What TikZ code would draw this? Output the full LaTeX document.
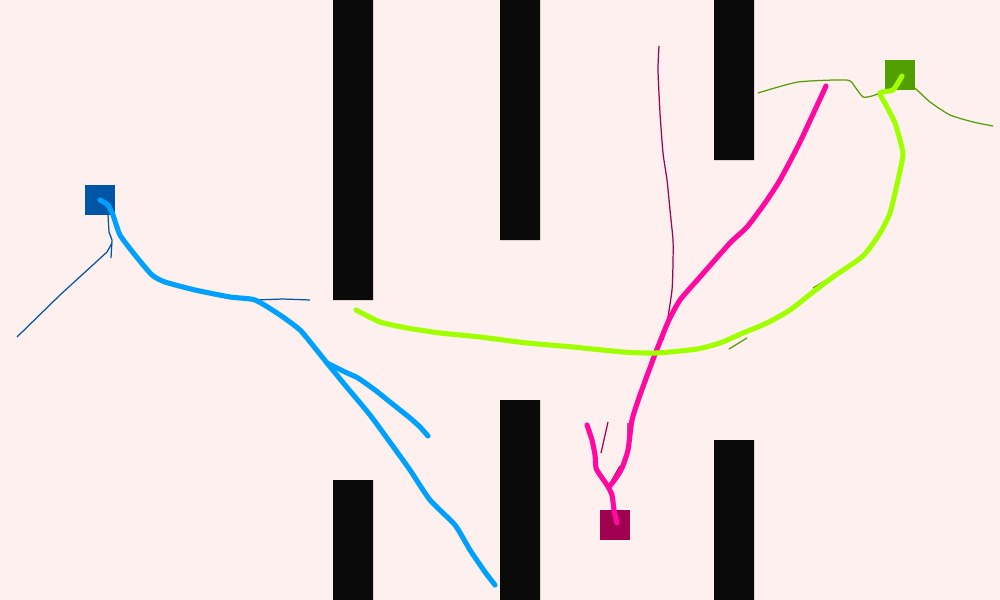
\documentclass[tikz,border=0pt]{standalone}
\definecolor{bgc}{HTML}{FDF0EF}
\definecolor{wallc}{HTML}{0A0A0A}
\definecolor{bluec}{HTML}{00A0FF}
\definecolor{bluedk}{HTML}{0055A5}
\definecolor{pinkc}{HTML}{FF0AA0}
\definecolor{pinkdk}{HTML}{A0004F}
\definecolor{greenc}{HTML}{A0FF00}
\definecolor{greendk}{HTML}{52A000}
\begin{document}
\begin{tikzpicture}[x=0.01cm,y=-0.01cm,
    path/.style={line width=1.45pt,line cap=round,line join=round},
    tree/.style={line width=0.35pt}]
    \fill[bgc](0,0)rectangle(1000,600);
    \clip(0,0)rectangle(1000,600);
    % walls
    \fill[wallc](333,0)rectangle(373,300) (500,0)rectangle(540,240) (714,0)rectangle(754,160);
    \fill[wallc](333,480)rectangle(373,600) (500,400)rectangle(540,600) (714,440)rectangle(754,600);
    % start squares
    \fill[bluedk](85,185)rectangle(115,215);
    \fill[pinkdk](600,510)rectangle(630,540);
    \fill[greendk](885,60)rectangle(915,90);
    
    % blue tree
    \draw[tree,bluedk](108,215)--(109,232)--(112,240)--(111,258);
    \draw[tree,bluedk](112,243)--(107,252)--(60,295)--(17,337);
    \draw[tree,bluedk](255,300)--(283,299)--(310,300);
    \draw[path,bluec]plot[smooth,tension=0.35]coordinates{(100,200)(108,205)(113,215)(120,235)(135,255)(152,275)(165,282)(195,290)(230,297)(255,300)(280,315)(300,330)(315,348)(327,363)};
    \draw[path,bluec]plot[smooth,tension=0.35]coordinates{(327,363)(345,385)(370,415)(392,445)(410,470)(430,500)(455,525)(470,550)(485,572)(495,585)};
    \draw[path,bluec]plot[smooth,tension=0.35]coordinates{(327,363)(345,372)(358,378)(375,390)(390,402)(410,418)(420,427)(428,436)};
    
    % pink tree
    \draw[tree,pinkdk]plot[smooth,tension=0.35]coordinates{(659,46)(658,70)(660,113)(663,153)(667,180)(670,210)(673,240)(673,263)(672,290)(667,323)(663,340)};
    \draw[tree,pinkdk](608,422)--(601,453) (628,423)--(628,445) (620,466)--(612,480);
    \draw[path,pinkc]plot[smooth,tension=0.35]coordinates{(617,523)(614,510)(612,495)(607,485)(600,475)(596,468)(595,455)(592,440)(587,425)};
    \draw[path,pinkc]plot[smooth,tension=0.35]coordinates{(609,487)(616,478)(622,468)(628,450)(632,420)(640,395)(654,357)(668,322)(680,300)(700,277)(730,243)(747,227)(765,203)(780,180)(800,142)(826,86)};
    
    % green tree
    \draw[tree,greendk]plot[smooth,tension=0.35]coordinates{(758,93)(798,82)(847,80)(855,87)(863,97)(872,96)(880,93)};
    \draw[tree,greendk]plot[smooth,tension=0.35]coordinates{(915,88)(930,102)(950,115)(973,122)(993,126)};
    \draw[tree,greendk](813,288)--(833,276) (729,349)--(747,338);
    \draw[path,greenc]plot[smooth,tension=0.35]coordinates{(902,76)(893,90)(880,93)(887,107)(895,123)(900,140)(903,155)(898,180)(890,213)(880,233)(863,256)(833,277)(813,292)(790,310)(767,323)(743,333)(720,343)(697,349)(657,353)(623,352)(573,347)(527,343)(480,337)(440,333)(407,328)(380,322)(356,310)};
\end{tikzpicture}
\end{document}
